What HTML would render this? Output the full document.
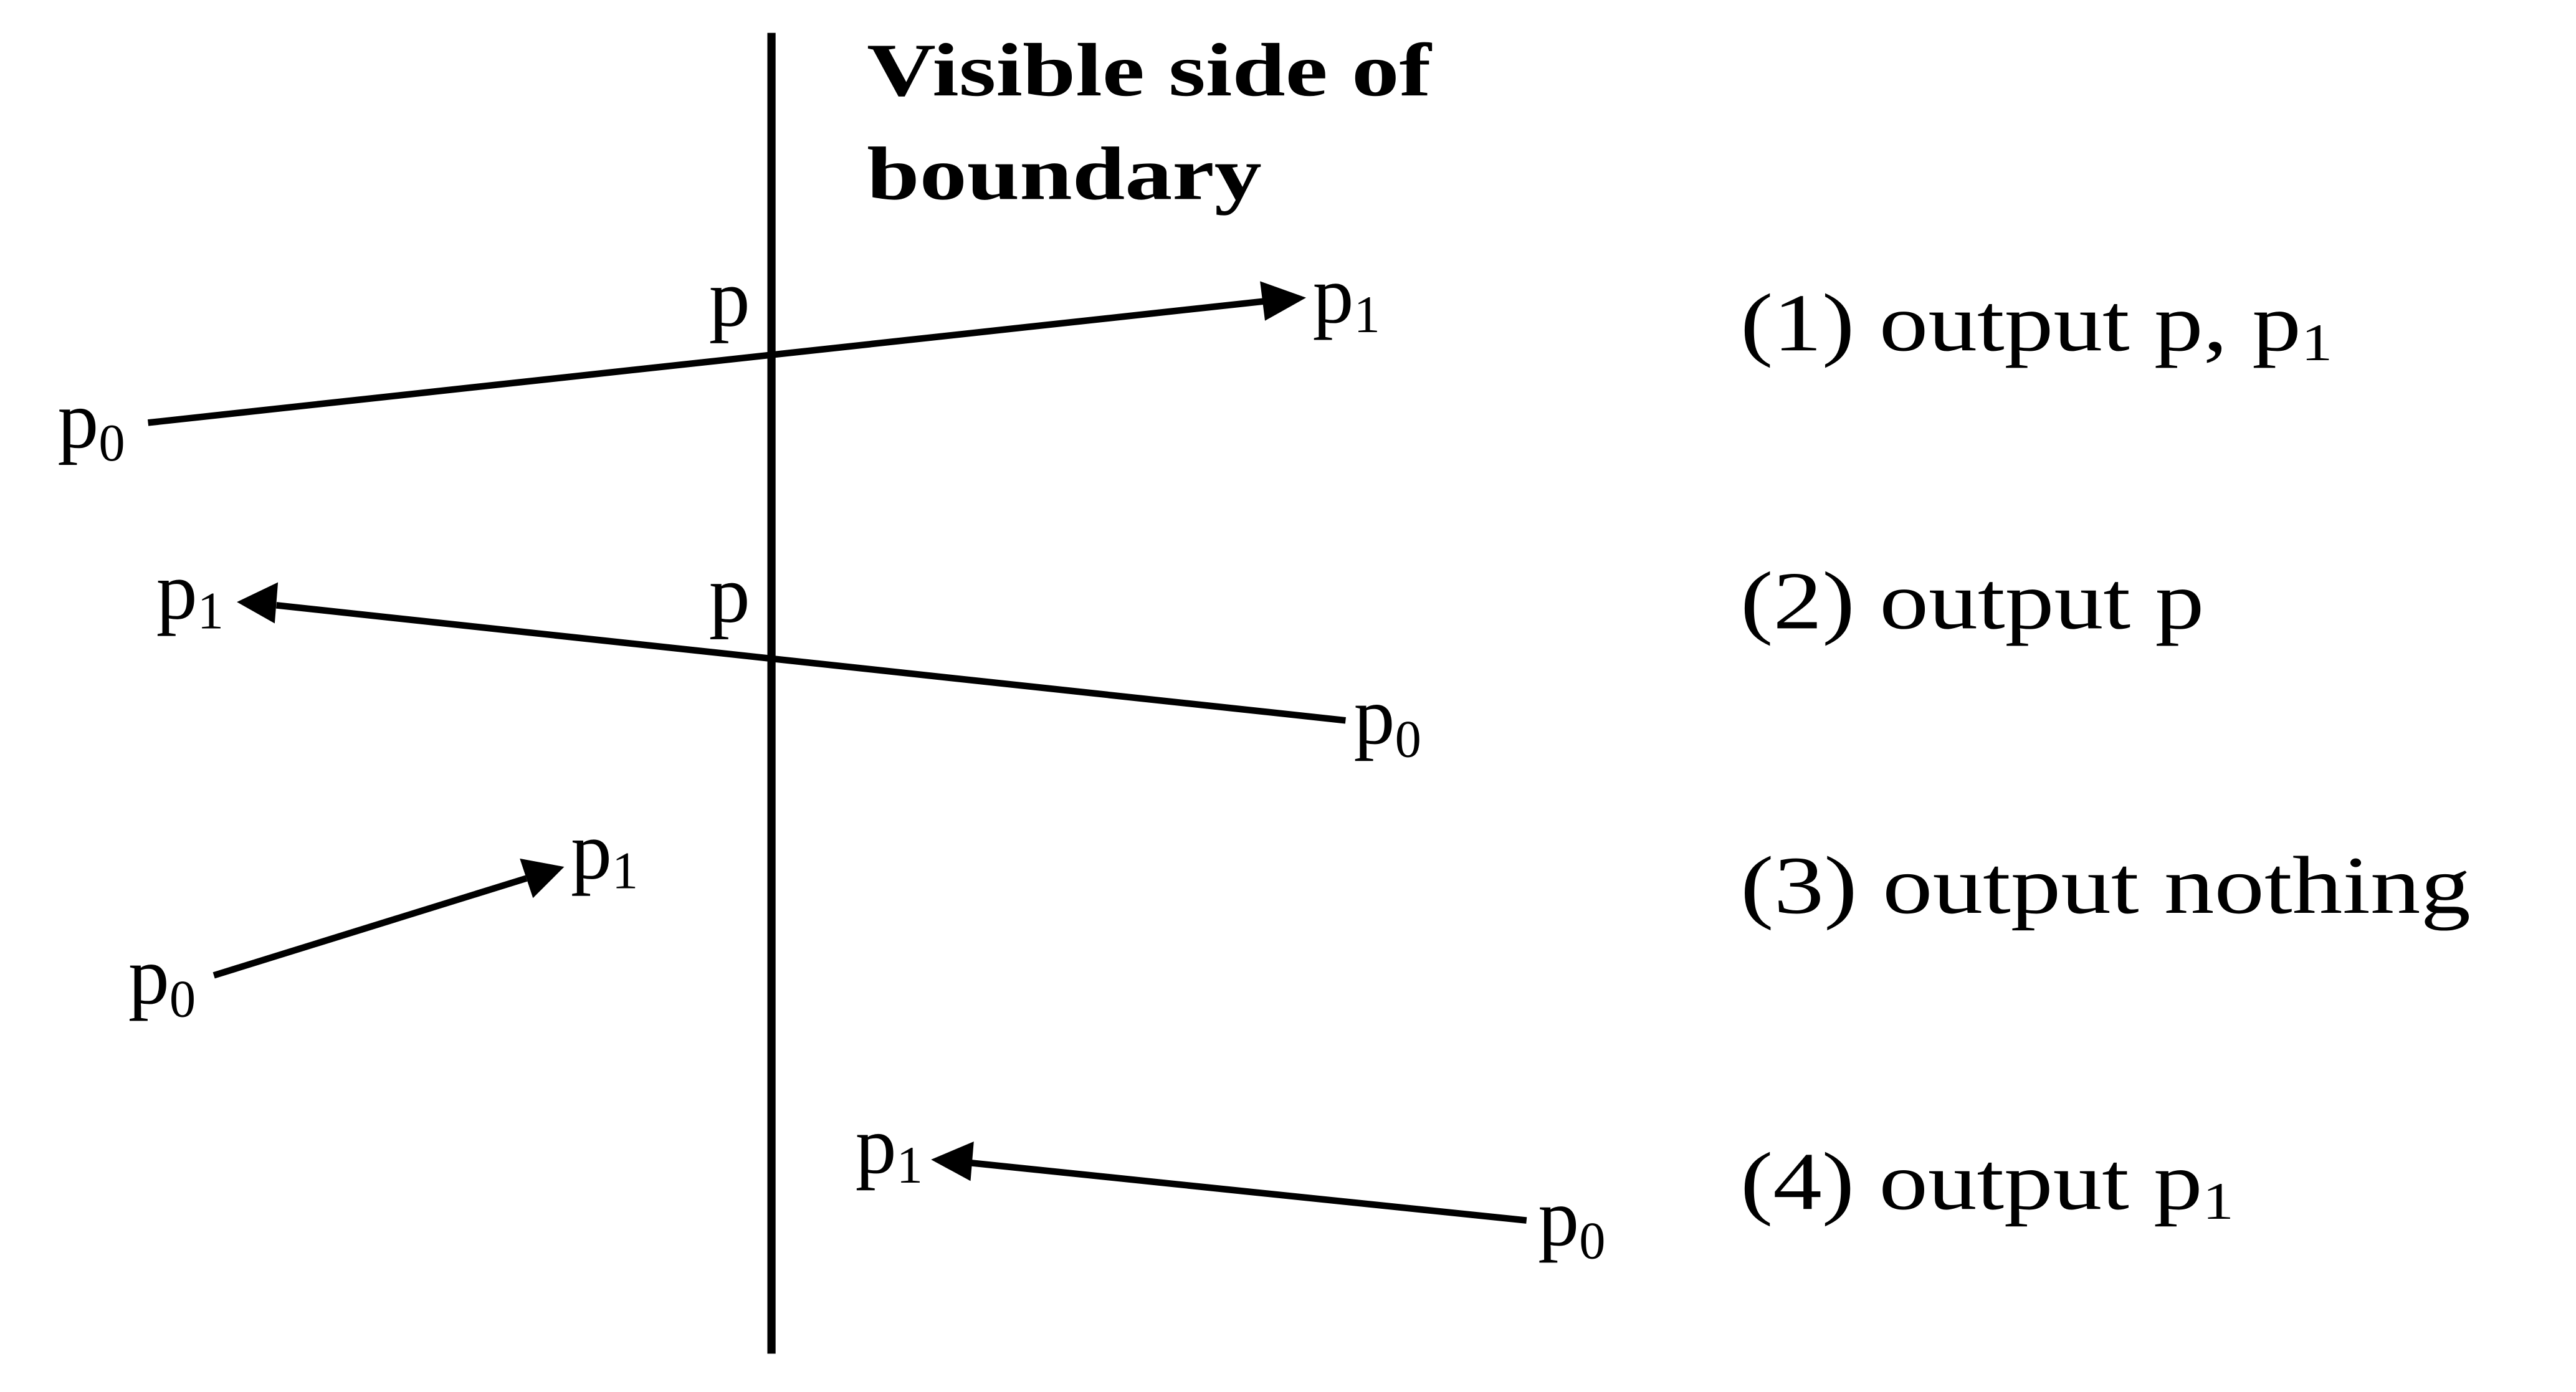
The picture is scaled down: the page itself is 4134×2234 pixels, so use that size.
<!DOCTYPE html>
<html><head><meta charset="utf-8"><style>
html,body{margin:0;padding:0;background:#fff;}
svg{display:block;}
text{font-family:"Liberation Serif",serif;fill:#000;}
</style></head><body>
<svg width="4134" height="2234" viewBox="0 0 1566 846.3" preserveAspectRatio="none" xmlns="http://www.w3.org/2000/svg">
<rect width="1566" height="847" fill="#fff"/>
<line x1="469" y1="20" x2="469" y2="823" stroke="#000" stroke-width="5"/>
<text x="527" y="58" font-size="46" font-weight="bold" textLength="343" lengthAdjust="spacingAndGlyphs">Visible side of</text>
<text x="527" y="121" font-size="46" font-weight="bold" textLength="240" lengthAdjust="spacingAndGlyphs">boundary</text>

<g stroke="#000" stroke-width="4">
<line x1="90" y1="257" x2="770" y2="183"/>
<line x1="818" y1="438" x2="168" y2="368"/>
<line x1="130" y1="593" x2="320" y2="534"/>
<line x1="928" y1="742" x2="590" y2="707"/>
</g>
<g fill="#000">
<polygon points="794,181 766,171 769,195"/>
<polygon points="144,366 169,354 167,379"/>
<polygon points="343,527 316,522 324,546"/>
<polygon points="566,705 592,694 590,718"/>
</g>

<g font-size="50">
<text x="431" y="198">p</text>
<text x="798" y="196">p<tspan font-size="32" dy="6">1</tspan></text>
<text x="35" y="272">p<tspan font-size="32" dy="8">0</tspan></text>

<text x="95" y="376">p<tspan font-size="32" dy="6">1</tspan></text>
<text x="431" y="378">p</text>
<text x="823" y="452">p<tspan font-size="32" dy="8">0</tspan></text>

<text x="347" y="534">p<tspan font-size="32" dy="6">1</tspan></text>
<text x="78" y="610">p<tspan font-size="32" dy="8">0</tspan></text>

<text x="520" y="713">p<tspan font-size="32" dy="6">1</tspan></text>
<text x="935" y="757">p<tspan font-size="32" dy="8">0</tspan></text>

<text x="1058" y="213" textLength="360" lengthAdjust="spacingAndGlyphs">(1) output p, p<tspan font-size="32" dy="6">1</tspan></text>
<text x="1058" y="382" textLength="282" lengthAdjust="spacingAndGlyphs">(2) output p</text>
<text x="1058" y="555" textLength="444" lengthAdjust="spacingAndGlyphs">(3) output nothing</text>
<text x="1058" y="735" textLength="300" lengthAdjust="spacingAndGlyphs">(4) output p<tspan font-size="32" dy="6">1</tspan></text>
</g>
</svg>
</body></html>
